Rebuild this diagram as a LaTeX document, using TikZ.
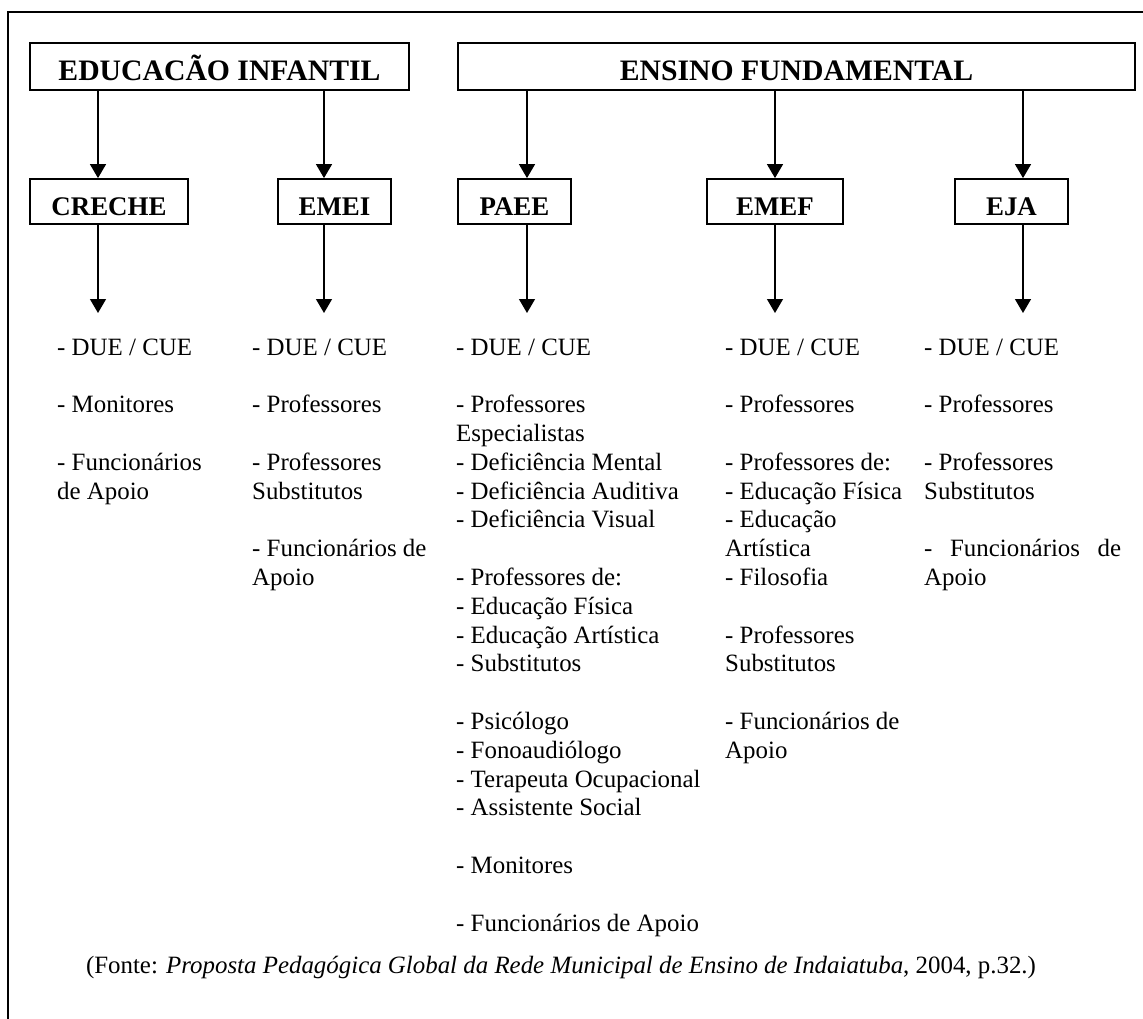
\documentclass[tikz,border=0pt]{standalone}
\usepackage{fontspec}
\setmainfont{Liberation Serif}
\usetikzlibrary{arrows.meta}
\begin{document}
\begin{tikzpicture}[x=1pt,y=-1pt,
  frame/.style={line width=1.6pt},
  headbox/.style={draw, line width=1.8pt, inner sep=0pt, text height=38pt, text depth=9pt, minimum height=47pt, font=\fontsize{29.7}{34}\selectfont\bfseries},
  subbox/.style={draw, line width=1.8pt, inner sep=0pt, text height=36pt, text depth=9pt, minimum height=45pt, font=\fontsize{26.9}{30}\selectfont\bfseries},
  list/.style={anchor=base west, inner sep=0pt, font=\fontsize{24.9}{28.8}\selectfont},
  arr/.style={line width=1.4pt, -{Triangle[width=16pt,length=14pt]}},
]
\useasboundingbox (0,0) rectangle (1143,1019);
% frame
\draw[frame] (8,1019) -- (8,12) -- (1143,12);

% headers
\node[headbox, minimum width=379pt] (ei) at (219.5,66.5) {EDUCACÃO INFANTIL};
\node[headbox, minimum width=677pt] (ef) at (796.5,66.5) {ENSINO FUNDAMENTAL};

% sub boxes
\node[subbox, minimum width=158pt] (creche) at (109,201.5) {CRECHE};
\node[subbox, minimum width=113pt] (emei) at (334.5,201.5) {EMEI};
\node[subbox, minimum width=113pt] (paee) at (514.5,201.5) {PAEE};
\node[subbox, minimum width=136pt] (emef) at (775,201.5) {EMEF};
\node[subbox, minimum width=113pt] (eja) at (1011.5,201.5) {EJA};

% arrow columns and free ends
\coordinate (t1) at (98,313);
\coordinate (t2) at (324,313);
\coordinate (t3) at (527,313);
\coordinate (t4) at (775,313);
\coordinate (t5) at (1023,313);

\draw[arr] (ei.south -| t1) -- (creche.north -| t1);
\draw[arr] (ei.south -| t2) -- (emei.north -| t2);
\draw[arr] (ef.south -| t3) -- (paee.north -| t3);
\draw[arr] (ef.south -| t4) -- (emef.north -| t4);
\draw[arr] (ef.south -| t5) -- (eja.north -| t5);

\draw[arr] (creche.south -| t1) -- (t1);
\draw[arr] (emei.south -| t2) -- (t2);
\draw[arr] (paee.south -| t3) -- (t3);
\draw[arr] (emef.south -| t4) -- (t4);
\draw[arr] (eja.south -| t5) -- (t5);

% lists
\node[list] (l1) at (57,355) {\begin{tabular}[t]{@{}l@{}}
- DUE / CUE\\ \\
- Monitores\\ \\
- Funcionários\\
de Apoio
\end{tabular}};

\node[list] (l2) at (252,355) {\begin{tabular}[t]{@{}l@{}}
- DUE / CUE\\ \\
- Professores\\ \\
- Professores\\
Substitutos\\ \\
- Funcionários de\\
Apoio
\end{tabular}};

\node[list] (l3) at (456,355) {\begin{tabular}[t]{@{}l@{}}
- DUE / CUE\\ \\
- Professores\\
Especialistas\\
- Deficiência Mental\\
- Deficiência Auditiva\\
- Deficiência Visual\\ \\
- Professores de:\\
- Educação Física\\
- Educação Artística\\
- Substitutos\\ \\
- Psicólogo\\
- Fonoaudiólogo\\
- Terapeuta Ocupacional\\
- Assistente Social\\ \\
- Monitores\\ \\
- Funcionários de Apoio
\end{tabular}};

\node[list] (l4) at (725,355) {\begin{tabular}[t]{@{}l@{}}
- DUE / CUE\\ \\
- Professores\\ \\
- Professores de:\\
- Educação Física\\
- Educação\\
Artística\\
- Filosofia\\ \\
- Professores\\
Substitutos\\ \\
- Funcionários de\\
Apoio
\end{tabular}};

\node[list] (l5) at (924,355) {\begin{tabular}[t]{@{}l@{}}
- DUE / CUE\\ \\
- Professores\\ \\
- Professores\\
Substitutos\\ \\
\makebox[197pt][s]{- Funcionários de}\\
Apoio
\end{tabular}};

% source
\node[list, anchor=base] (src) at (561,973) {(Fonte: \textit{Proposta Pedagógica Global da Rede Municipal de Ensino de Indaiatuba}, 2004, p.32.)};
\end{tikzpicture}
\end{document}
